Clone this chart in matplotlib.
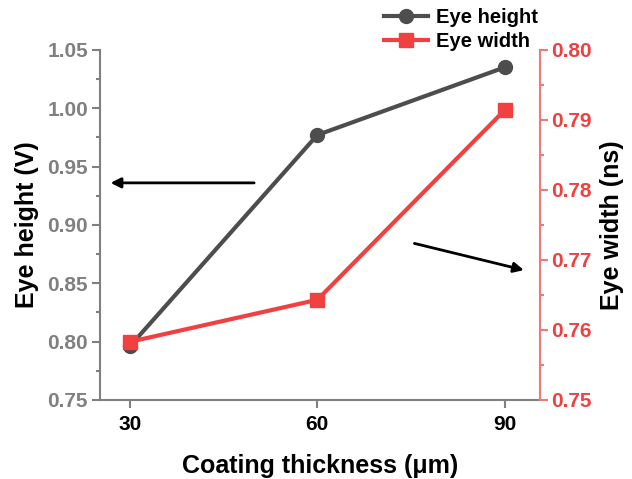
import matplotlib.pyplot as plt
from matplotlib.ticker import MultipleLocator

plt.rcParams['font.family'] = ['Liberation Sans', 'DejaVu Sans']
plt.rcParams['font.weight'] = 'bold'

#### DATA ####

thickness = [30, 60, 90]
eye_height = [0.796, 0.977, 1.035]
eye_width = [0.7583, 0.7643, 0.7914]

gray = '#4d4d4d'
axis_gray = '#808080'
red = '#f04040'

#### PLOT ####

fig = plt.figure(figsize=(6.32, 4.79), dpi=100)
ax = fig.add_axes([0.158, 0.165, 0.696, 0.731])
ax2 = ax.twinx()

l1, = ax.plot(thickness, eye_height, color=gray, lw=3, marker='o', ms=10,
              label='Eye height', zorder=3)
l2, = ax2.plot(thickness, eye_width, color=red, lw=3, marker='s', ms=10,
               label='Eye width', zorder=3)

ax.set_xlim(25.2, 95.6)
ax.set_ylim(0.75, 1.05)
ax2.set_ylim(0.75, 0.80)
ax.set_xticks(thickness)
ax.yaxis.set_major_locator(MultipleLocator(0.05))
ax.yaxis.set_minor_locator(MultipleLocator(0.025))
ax2.yaxis.set_major_locator(MultipleLocator(0.01))
ax2.yaxis.set_minor_locator(MultipleLocator(0.005))

for a in (ax, ax2):
    a.spines['top'].set_visible(False)
ax.spines['left'].set_color(axis_gray)
ax.spines['bottom'].set_color(axis_gray)
ax.spines['right'].set_visible(False)
ax2.spines['left'].set_visible(False)
ax2.spines['bottom'].set_visible(False)
ax2.spines['right'].set_color('#f07878')
for s in ('left', 'bottom'):
    ax.spines[s].set_linewidth(1.5)
ax2.spines['right'].set_linewidth(1.5)

ax.tick_params(axis='y', which='both', colors=axis_gray, labelsize=15, width=1.5)
ax.tick_params(axis='y', which='major', length=6, pad=2.5)
ax.tick_params(axis='y', which='minor', length=3)
ax.tick_params(axis='x', colors=axis_gray, labelcolor='black', labelsize=15,
               width=1.5, length=6, pad=5)
ax2.tick_params(axis='y', which='both', colors='#f07878', labelcolor=red,
                labelsize=15, width=1.5)
ax2.tick_params(axis='y', which='major', length=6, pad=2)
ax2.tick_params(axis='y', which='minor', length=3)

ax.set_xlabel('Coating thickness (μm)', fontsize=18, fontweight='bold', labelpad=14)
ax.set_ylabel('Eye height (V)', fontsize=18, fontweight='bold', labelpad=6)
ax2.set_ylabel('Eye width (ns)', fontsize=18, fontweight='bold', labelpad=6)

# arrows pointing to the axis each curve belongs to
ax.annotate('', xy=(0.018, 0.62), xytext=(0.357, 0.62), xycoords='axes fraction',
            arrowprops=dict(arrowstyle='-|>', color='black', lw=2, mutation_scale=15))
ax.annotate('', xy=(0.970, 0.369), xytext=(0.709, 0.449), xycoords='axes fraction',
            arrowprops=dict(arrowstyle='-|>', color='black', lw=2, mutation_scale=15))

fig.legend(handles=[l1, l2], loc='upper left', bbox_to_anchor=(0.585, 1.012),
           frameon=False, fontsize=14.5, handlelength=2.2, labelspacing=0.25,
           borderpad=0.2, handletextpad=0.4)

fig.savefig('out.png', dpi=100)
